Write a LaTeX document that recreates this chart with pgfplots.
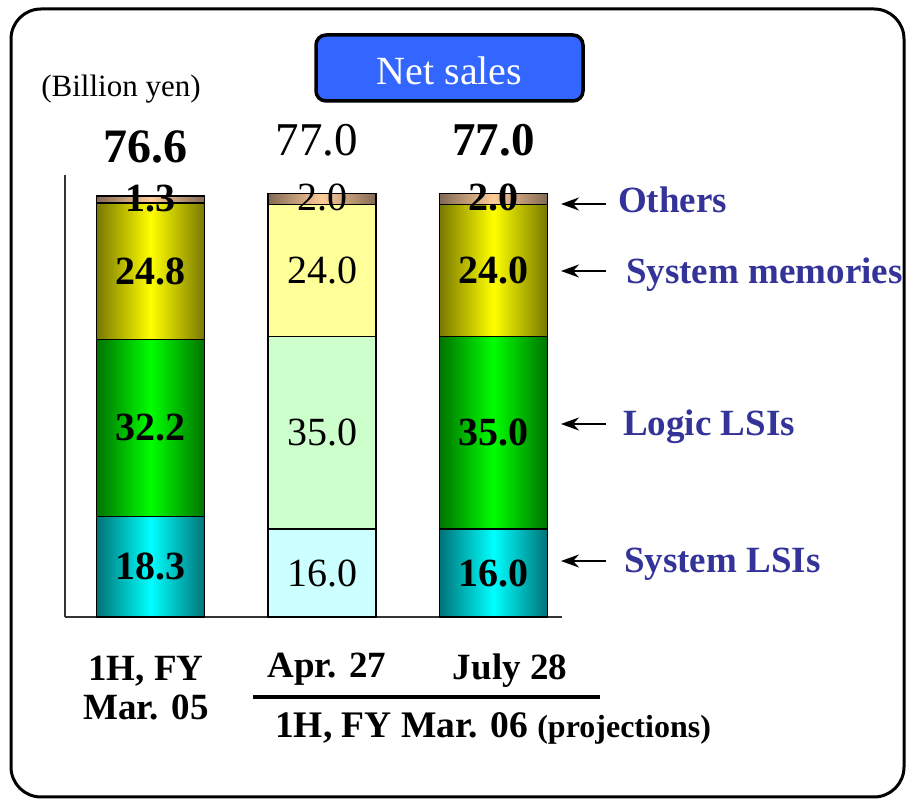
\documentclass[border=0pt]{standalone}
\usepackage{pgfplots}
\pgfplotsset{compat=1.18}
\usepackage{pgfplotstable}
\usepackage{fontspec}
\setmainfont{Liberation Serif}
\usetikzlibrary{arrows.meta}
\definecolor{tealdark}{RGB}{0,115,120}
\definecolor{cyanb}{RGB}{0,255,255}
\definecolor{greendark}{RGB}{0,115,0}
\definecolor{greenb}{RGB}{0,255,0}
\definecolor{olivedark}{RGB}{120,120,0}
\definecolor{yellowb}{RGB}{255,255,0}
\definecolor{browndark}{RGB}{130,105,85}
\definecolor{peach}{RGB}{255,204,153}
\definecolor{palecyan}{RGB}{204,255,255}
\definecolor{palegreen}{RGB}{204,255,204}
\definecolor{paleyellow}{RGB}{255,255,153}
\definecolor{titleblue}{RGB}{51,102,255}
\definecolor{labelblue}{RGB}{51,51,153}

% 1H, FY Mar. 05 (actual)
\pgfplotstableread{
x sys logic mem oth
0.5 18.3 32.2 24.8 1.3
}\barA
% Apr. 27 projection
\pgfplotstableread{
x sys logic mem oth
1.5 16.0 35.0 24.0 2.0
}\barB
% July 28 projection
\pgfplotstableread{
x sys logic mem oth
2.5 16.0 35.0 24.0 2.0
}\barC

\newcommand{\fs}[1]{\fontsize{#1}{#1}\selectfont}

\begin{document}
\begin{tikzpicture}[x=1pt,y=1pt]
\pgfplotsset{
  base/.style={at={(65pt,185pt)}, anchor=origin, scale only axis, width=497pt, height=442pt,
    xmin=0, xmax=2.9, ymin=0, ymax=80.4, ybar stacked, bar width=0.63,
    xtick=\empty, ytick=\empty, clip=false},
  segline/.style={draw=black, line width=1.4pt},
}
% outer frame
\draw[line width=3pt, rounded corners=30pt] (11,5) rectangle (904,793);
% title box
\draw[line width=3.5pt, rounded corners=10pt, fill=titleblue] (316,701) rectangle (583,767);
\node[text=white, font=\fs{40}] at (449.5,731) {Net sales};
\node[font=\fs{31}] at (121,713) {(Billion yen)};

\begin{axis}[base, axis x line=bottom, axis y line=left, axis line style={-, line width=1.5pt, black!80}]
\addplot[segline, left color=tealdark, right color=tealdark, middle color=cyanb] table[x=x,y=sys]{\barA};
\addplot[segline, left color=greendark, right color=greendark, middle color=greenb] table[x=x,y=logic]{\barA};
\addplot[segline, left color=olivedark, right color=olivedark, middle color=yellowb] table[x=x,y=mem]{\barA};
\addplot[segline, left color=browndark, right color=browndark, middle color=peach] table[x=x,y=oth]{\barA};
\end{axis}

\begin{axis}[base, hide axis]
\addplot[segline, fill=palecyan] table[x=x,y=sys]{\barB};
\addplot[segline, fill=palegreen] table[x=x,y=logic]{\barB};
\addplot[segline, fill=paleyellow] table[x=x,y=mem]{\barB};
\addplot[segline, left color=browndark, right color=browndark, middle color=peach] table[x=x,y=oth]{\barB};
\end{axis}

\begin{axis}[base, hide axis]
\addplot[segline, left color=tealdark, right color=tealdark, middle color=cyanb] table[x=x,y=sys]{\barC};
\addplot[segline, left color=greendark, right color=greendark, middle color=greenb] table[x=x,y=logic]{\barC};
\addplot[segline, left color=olivedark, right color=olivedark, middle color=yellowb] table[x=x,y=mem]{\barC};
\addplot[segline, left color=browndark, right color=browndark, middle color=peach] table[x=x,y=oth]{\barC};
\end{axis}

% value labels
\begin{axis}[base, hide axis]
\node[font=\bfseries\fs{40}] at (axis cs:0.5,9.15) {18.3};
\node[font=\bfseries\fs{40}] at (axis cs:0.5,34.4) {32.2};
\node[font=\bfseries\fs{40}] at (axis cs:0.5,62.9) {24.8};
\node[font=\bfseries\fs{40}] at (axis cs:0.5,76.1) {1.3};
\node[font=\bfseries\fs{48}] at (axis cs:0.47,85.5) {76.6};
\node[font=\fs{40}] at (axis cs:1.5,8) {16.0};
\node[font=\fs{40}] at (axis cs:1.5,33.5) {35.0};
\node[font=\fs{40}] at (axis cs:1.5,63) {24.0};
\node[font=\fs{40}] at (axis cs:1.5,76.3) {2.0};
\node[font=\fs{47}] at (axis cs:1.47,86.7) {77.0};
\node[font=\bfseries\fs{40}] at (axis cs:2.5,8) {16.0};
\node[font=\bfseries\fs{40}] at (axis cs:2.5,33.5) {35.0};
\node[font=\bfseries\fs{40}] at (axis cs:2.5,63) {24.0};
\node[font=\bfseries\fs{40}] at (axis cs:2.5,76.3) {2.0};
\node[font=\bfseries\fs{47}] at (axis cs:2.5,86.7) {77.0};
\end{axis}

% right-hand labels with arrows
\foreach \py/\by/\lx/\txt in {204/213/618/Others, 271/284/626/System memories, 424/436/623/Logic LSIs, 561/573/624/System LSIs}{
  \draw[line width=1.8pt, -{Stealth[length=18pt,width=13pt]}] (606,802-\py) -- (561,802-\py);
  \node[anchor=base west, inner sep=0pt, text=labelblue, font=\bfseries\fs{37}] at (\lx,802-\by) {\txt};
}

% category labels
\node[align=center, font=\bfseries\fs{37}, inner sep=0pt] at (146,114) {1H, FY\\[2pt]Mar. 05};
\node[font=\bfseries\fs{37}, inner sep=0pt] at (327,133) {Apr. 27};
\node[font=\bfseries\fs{37}, inner sep=0pt] at (510,131) {July 28};
\draw[line width=4pt] (253,105) -- (600,105);
\node[anchor=west, font=\bfseries\fs{37.5}, inner sep=0pt] at (275,74) {1H, FY Mar. 06 {\fs{32}(projections)}};

\pgfresetboundingbox
\path (0,0) rectangle (908,802);
\end{tikzpicture}
\end{document}
